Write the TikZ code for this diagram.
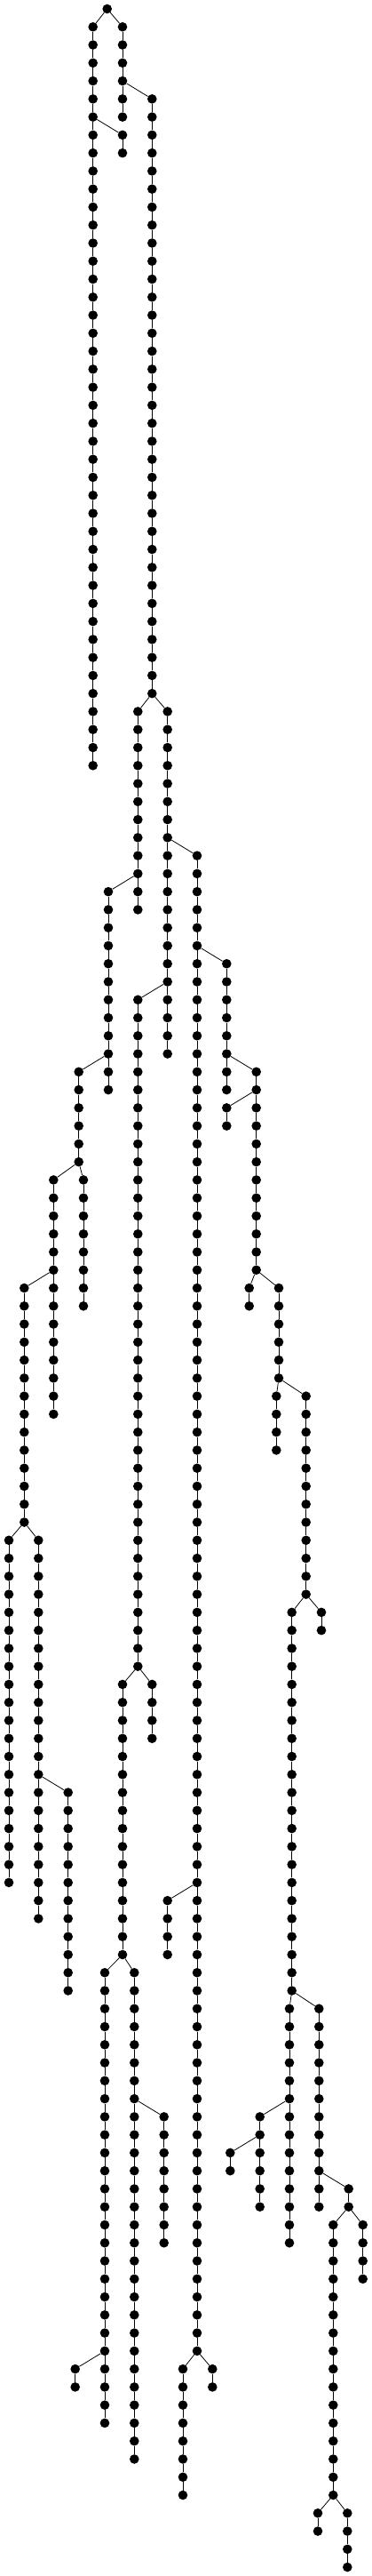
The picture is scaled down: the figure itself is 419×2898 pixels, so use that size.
\documentclass[tikz,border=0pt]{standalone}
\tikzset{
  dot/.style={circle,fill=black,draw=none,inner sep=0pt,minimum size=10.6pt},
  edge/.style={draw=black,line width=0.8pt}
}
\begin{document}
\begin{tikzpicture}[x=1pt,y=-1pt]
\useasboundingbox (0,0) rectangle (419,2898);
\node[dot] (c0-0) at (120.7,10) {};
\foreach \id/\xx/\a/\b/\p/\pr in {
  1/104.7/1/42/0/0,
  2/138/1/6/0/0,
  3/138/7/8/1/6,
  4/171.3/5/38/2/4,
  5/155.3/39/50/4/38,
  6/188.7/39/58/4/38,
  7/222/47/130/6/46,
  8/122/49/60/5/48,
  9/155.3/55/92/6/54,
  10/255.3/53/60/7/52,
  11/88.7/59/64/8/58,
  12/288.7/59/70/10/58,
  13/255.3/61/62/12/60,
  14/60.3/65/78/11/64,
  15/94/65/72/11/64,
  16/27.3/71/84/14/70,
  17/280.7/71/72/12/70,
  18/314/71/76/12/70,
  19/311.3/77/80/18/76,
  20/344.7/77/88/18/76,
  21/10/85/104/16/84,
  22/43.3/85/106/16/84,
  23/138/93/108/9/92,
  24/171.3/93/96/9/92,
  25/328.7/89/110/20/88,
  26/362/89/90/20/88,
  27/76.7/99/110/22/98,
  28/188.7/105/108/7/104,
  29/118/109/134/23/108,
  30/151.3/109/136/23/108,
  31/326/111/124/25/110,
  32/359.3/111/122/25/110,
  33/184.7/117/124/30/116,
  34/292.7/117/122/31/116,
  35/259.3/119/120/34/118,
  36/392.7/121/122/32/120,
  37/375.3/123/138/36/122,
  38/408.7/123/126/36/122,
  39/84.7/131/132/29/130,
  40/206/131/138/7/130,
  41/239.3/131/132/7/130,
  42/358/139/140/37/138,
  43/391.3/139/142/37/138}{
  \foreach \r in {\a,...,\b}{
    \node[dot] (c\id-\r) at (\xx,{10+20.268*\r}) {};
  }
  \draw[edge] (c\p-\pr) -- (c\id-\a);
  \pgfmathtruncatemacro\bm{\b-1}
  \foreach \r in {\a,...,\bm}{
    \pgfmathtruncatemacro\rn{\r+1}
    \draw[edge] (c\id-\r) -- (c\id-\rn);
  }
}
\end{tikzpicture}
\end{document}
